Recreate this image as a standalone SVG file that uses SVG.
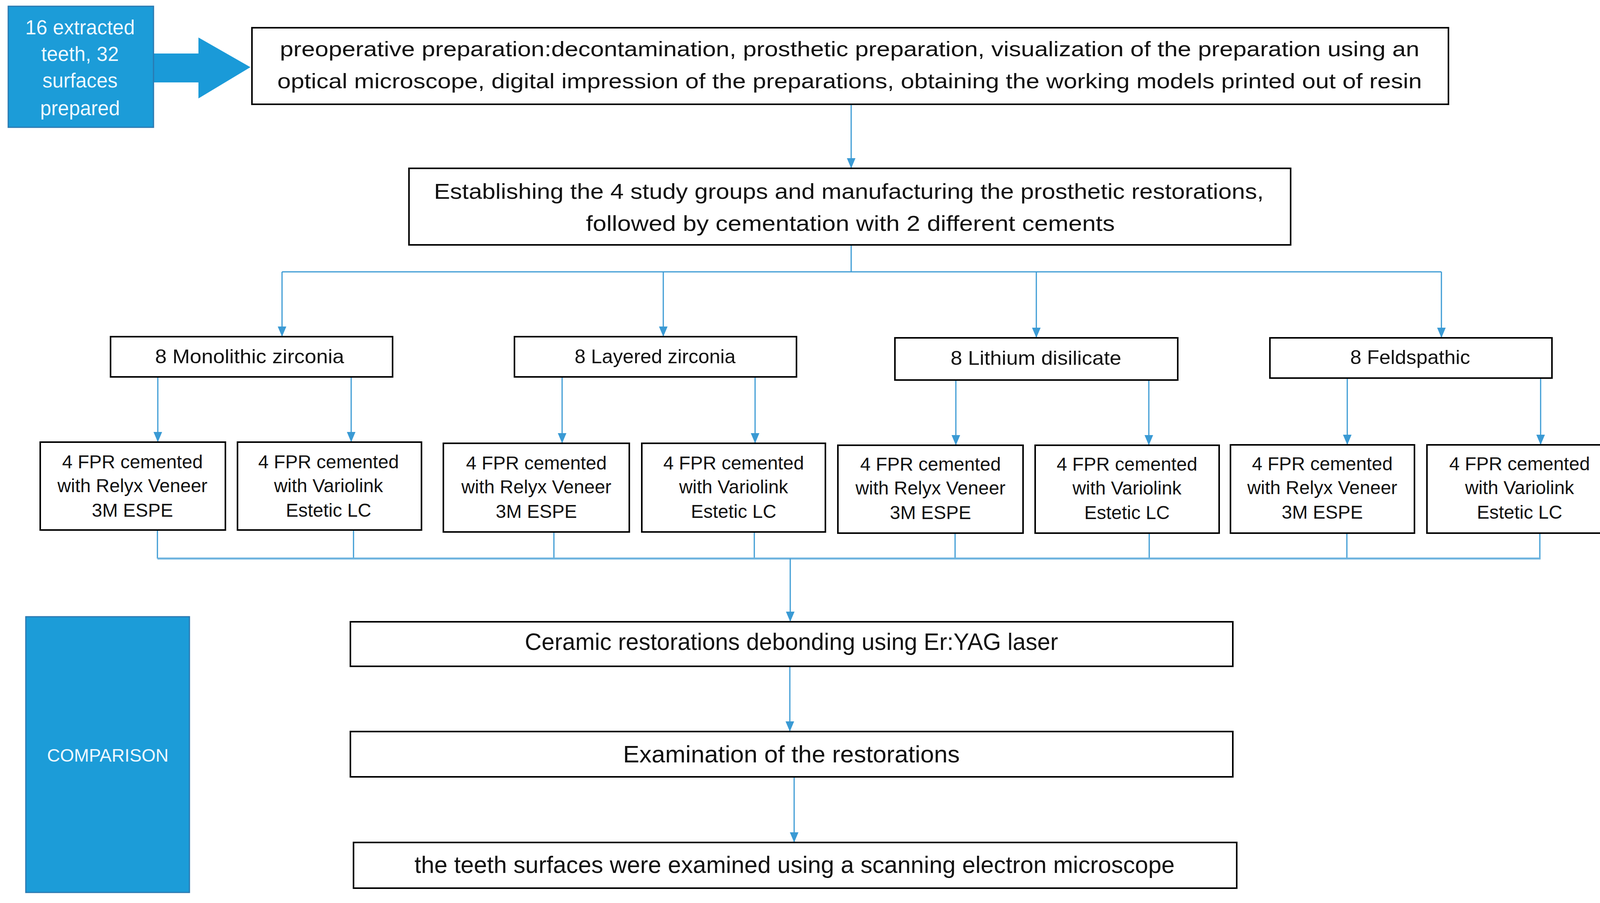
<svg xmlns="http://www.w3.org/2000/svg" width="4147" height="2312" viewBox="0 0 4147 2312">
<style>
.box{fill:#ffffff;stroke:#000000;stroke-width:4}
.blue{fill:#1c9cd8;stroke:#2a78b0;stroke-width:3}
.t{font-family:"Liberation Sans",Arial,sans-serif;fill:#111111;text-anchor:middle}
.w{font-family:"Liberation Sans",Arial,sans-serif;fill:#eef8ff;text-anchor:middle}
.c{fill:none;stroke:#3a9ad4;stroke-width:3}
.bus{fill:none;stroke:#6cb2de;stroke-width:5}
</style>
<defs>
<marker id="ah" markerUnits="userSpaceOnUse" markerWidth="26" markerHeight="22" refX="26" refY="11" orient="auto">
<path d="M0,0 L26,11 L0,22 z" fill="#3a9ad4"/>
</marker>
</defs>
<rect width="4147" height="2312" fill="#ffffff"/>
<g id="connectors">
<polygon points="393,137 508,137 508,96 641,172 508,252 508,211 393,211" fill="#1a9ad8"/>
<path class="c" d="M2179,267 V431" marker-end="url(#ah)"/>
<path class="c" d="M2179,627 V696 M722,696 H3690"/>
<path class="c" d="M722,696 V862" marker-end="url(#ah)"/>
<path class="c" d="M1698,696 V862" marker-end="url(#ah)"/>
<path class="c" d="M2653,696 V865" marker-end="url(#ah)"/>
<path class="c" d="M3690,696 V865" marker-end="url(#ah)"/>
<path class="c" d="M404,965 V1132" marker-end="url(#ah)"/>
<path class="c" d="M899,965 V1132" marker-end="url(#ah)"/>
<path class="c" d="M1439,965 V1135" marker-end="url(#ah)"/>
<path class="c" d="M1933,965 V1135" marker-end="url(#ah)"/>
<path class="c" d="M2447,973 V1140" marker-end="url(#ah)"/>
<path class="c" d="M2941,973 V1140" marker-end="url(#ah)"/>
<path class="c" d="M3449,968 V1139" marker-end="url(#ah)"/>
<path class="c" d="M3944,968 V1139" marker-end="url(#ah)"/>
<path class="c" d="M403,1357 V1430 M905,1357 V1430 M1418,1362 V1430 M1931,1362 V1430 M2445,1365 V1430 M2942,1365 V1430 M3448,1365 V1430 M3942,1365 V1430"/>
<path class="bus" d="M403,1430 H3944"/>
<path class="c" d="M2023,1430 V1592" marker-end="url(#ah)"/>
<path class="c" d="M2022,1706 V1873" marker-end="url(#ah)"/>
<path class="c" d="M2033,1989 V2157" marker-end="url(#ah)"/>
</g>
<g id="n-teeth">
<rect class="blue" x="21" y="16" width="372" height="310"/>
<text class="w" font-size="51" x="205" y="88">16 extracted</text>
<text class="w" font-size="51" x="205" y="156">teeth, 32</text>
<text class="w" font-size="51" x="205" y="224">surfaces</text>
<text class="w" font-size="51" x="205" y="295">prepared</text>
</g>
<g id="n-preop">
<rect class="box" x="645" y="71" width="3063" height="196"/>
<text class="t" font-size="53" x="2175" y="144" textLength="2917" lengthAdjust="spacingAndGlyphs">preoperative preparation:decontamination, prosthetic preparation, visualization of the preparation using an</text>
<text class="t" font-size="53" x="2175" y="226" textLength="2930" lengthAdjust="spacingAndGlyphs">optical microscope, digital impression of the preparations, obtaining the working models printed out of resin</text>
</g>
<g id="n-groups">
<rect class="box" x="1047" y="431" width="2257" height="196"/>
<text class="t" font-size="55" x="2173" y="509" textLength="2124" lengthAdjust="spacingAndGlyphs">Establishing the 4 study groups and manufacturing the prosthetic restorations,</text>
<text class="t" font-size="55" x="2177" y="591" textLength="1354" lengthAdjust="spacingAndGlyphs">followed by cementation with 2 different cements</text>
</g>
<g id="n-mono">
<rect class="box" x="283" y="862" width="722" height="103"/>
<text class="t" font-size="50" x="639" y="930" textLength="484" lengthAdjust="spacingAndGlyphs">8 Monolithic zirconia</text>
</g>
<g id="n-layer">
<rect class="box" x="1317" y="862" width="722" height="103"/>
<text class="t" font-size="50" x="1677" y="930" textLength="412" lengthAdjust="spacingAndGlyphs">8 Layered zirconia</text>
</g>
<g id="n-lith">
<rect class="box" x="2291" y="865" width="724" height="108"/>
<text class="t" font-size="50" x="2652" y="934" textLength="437" lengthAdjust="spacingAndGlyphs">8 Lithium disilicate</text>
</g>
<g id="n-feld">
<rect class="box" x="3251" y="865" width="722" height="103"/>
<text class="t" font-size="50" x="3610" y="932" textLength="307" lengthAdjust="spacingAndGlyphs">8 Feldspathic</text>
</g>
<g id="n-s1">
<rect class="box" x="103" y="1132" width="474" height="225"/>
<text class="t" font-size="48" x="339" y="1199">4 FPR cemented</text>
<text class="t" font-size="48" x="339" y="1260">with Relyx Veneer</text>
<text class="t" font-size="48" x="339" y="1323">3M ESPE</text>
</g>
<g id="n-s2">
<rect class="box" x="608" y="1132" width="471" height="225"/>
<text class="t" font-size="48" x="841" y="1199">4 FPR cemented</text>
<text class="t" font-size="48" x="841" y="1260">with Variolink</text>
<text class="t" font-size="48" x="841" y="1323">Estetic LC</text>
</g>
<g id="n-s3">
<rect class="box" x="1135" y="1135" width="476" height="227"/>
<text class="t" font-size="48" x="1373" y="1202">4 FPR cemented</text>
<text class="t" font-size="48" x="1373" y="1263">with Relyx Veneer</text>
<text class="t" font-size="48" x="1373" y="1326">3M ESPE</text>
</g>
<g id="n-s4">
<rect class="box" x="1643" y="1135" width="470" height="227"/>
<text class="t" font-size="48" x="1878" y="1202">4 FPR cemented</text>
<text class="t" font-size="48" x="1878" y="1263">with Variolink</text>
<text class="t" font-size="48" x="1878" y="1326">Estetic LC</text>
</g>
<g id="n-s5">
<rect class="box" x="2145" y="1140" width="474" height="225"/>
<text class="t" font-size="48" x="2382" y="1205">4 FPR cemented</text>
<text class="t" font-size="48" x="2382" y="1266">with Relyx Veneer</text>
<text class="t" font-size="48" x="2382" y="1329">3M ESPE</text>
</g>
<g id="n-s6">
<rect class="box" x="2650" y="1140" width="471" height="225"/>
<text class="t" font-size="48" x="2885" y="1205">4 FPR cemented</text>
<text class="t" font-size="48" x="2885" y="1266">with Variolink</text>
<text class="t" font-size="48" x="2885" y="1329">Estetic LC</text>
</g>
<g id="n-s7">
<rect class="box" x="3150" y="1139" width="471" height="226"/>
<text class="t" font-size="48" x="3385" y="1204">4 FPR cemented</text>
<text class="t" font-size="48" x="3385" y="1265">with Relyx Veneer</text>
<text class="t" font-size="48" x="3385" y="1328">3M ESPE</text>
</g>
<g id="n-s8">
<rect class="box" x="3653" y="1139" width="475" height="226"/>
<text class="t" font-size="48" x="3890" y="1204">4 FPR cemented</text>
<text class="t" font-size="48" x="3890" y="1265">with Variolink</text>
<text class="t" font-size="48" x="3890" y="1328">Estetic LC</text>
</g>
<g id="n-comparison">
<rect class="blue" x="66" y="1579" width="419" height="706"/>
<text class="w" font-size="46" x="276" y="1950">COMPARISON</text>
</g>
<g id="n-debond">
<rect class="box" x="897" y="1592" width="2259" height="114"/>
<text class="t" font-size="61" x="2026" y="1664" textLength="1365" lengthAdjust="spacingAndGlyphs">Ceramic restorations debonding using Er:YAG laser</text>
</g>
<g id="n-exam">
<rect class="box" x="897" y="1873" width="2259" height="116"/>
<text class="t" font-size="61" x="2026" y="1952" textLength="862" lengthAdjust="spacingAndGlyphs">Examination of the restorations</text>
</g>
<g id="n-sem">
<rect class="box" x="905" y="2157" width="2261" height="117"/>
<text class="t" font-size="61" x="2034" y="2235" textLength="1946" lengthAdjust="spacingAndGlyphs">the teeth surfaces were examined using a scanning electron microscope</text>
</g>
</svg>
